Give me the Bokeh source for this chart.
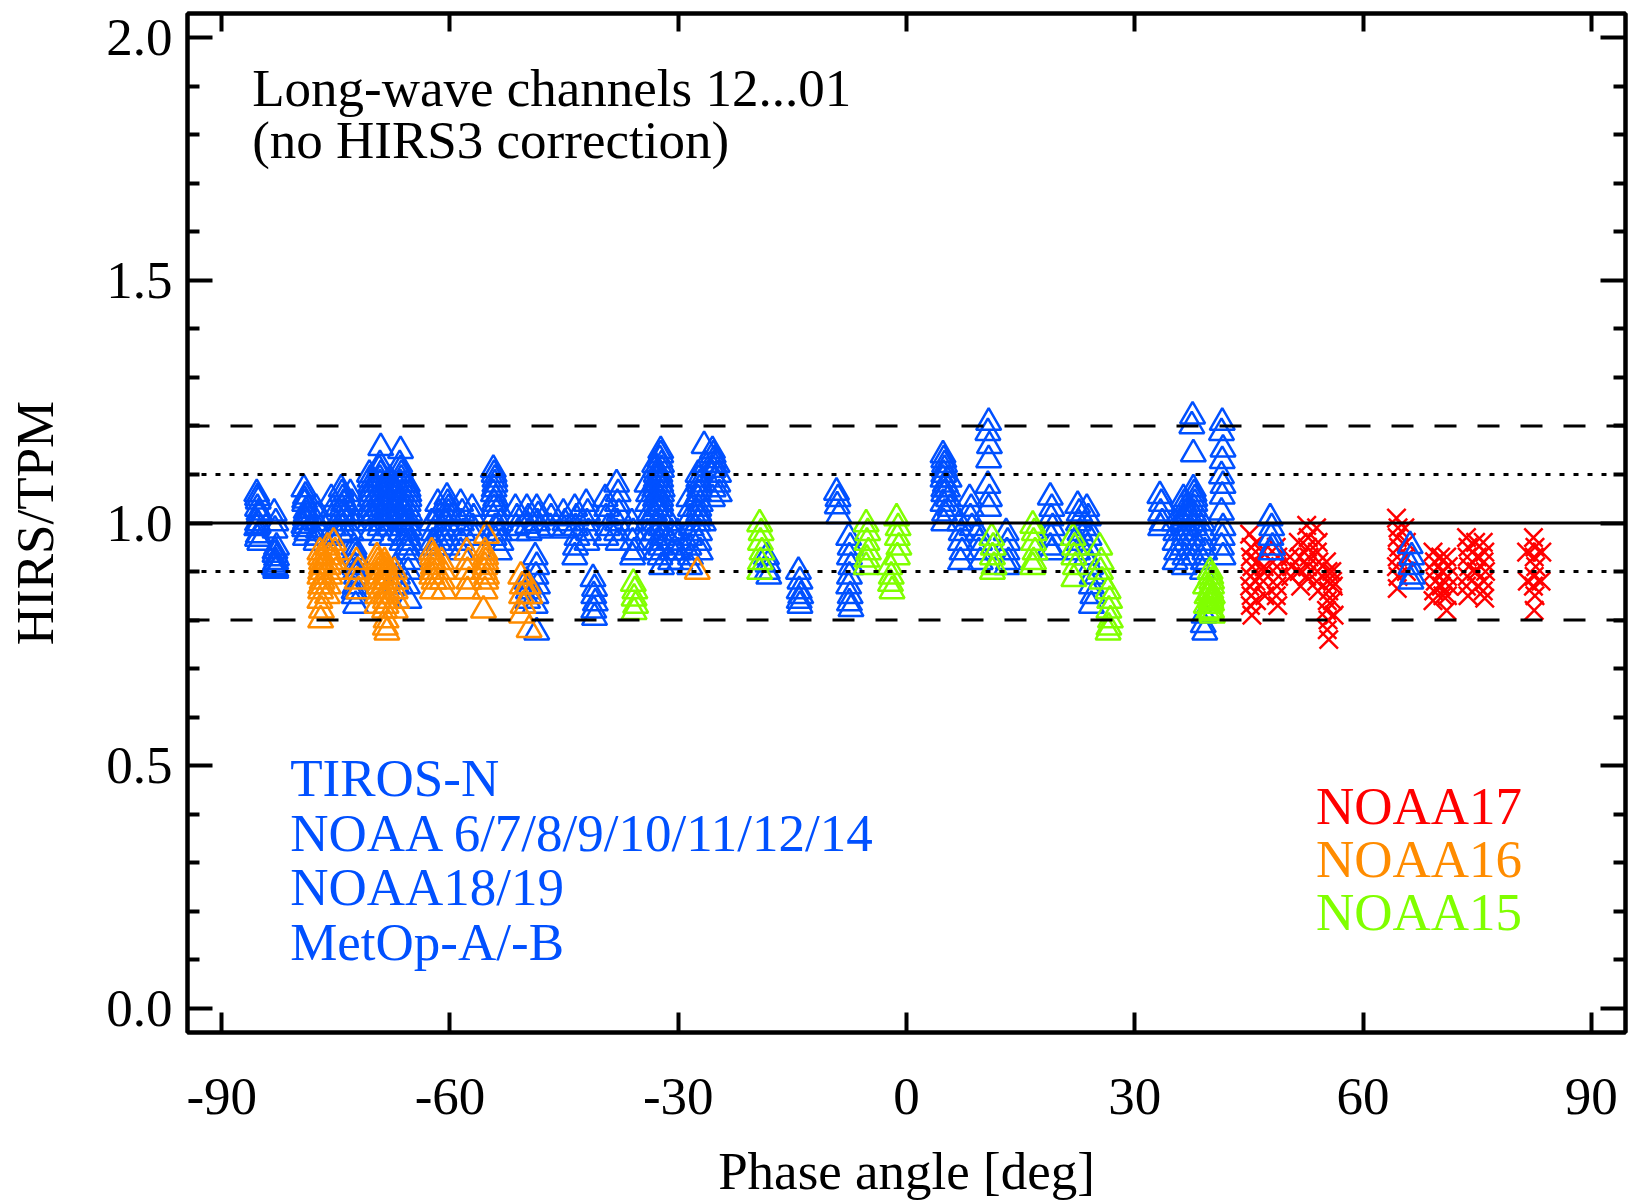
from bokeh.plotting import figure
from bokeh.models import (Range1d, LinearAxis, FixedTicker, PrintfTickFormatter,
                          Span, Label, CustomJSTickFormatter)
from bokeh.embed import file_html
from bokeh.resources import INLINE

# ---------------- data ----------------
x_ticks = [-90, -60, -30, 0, 30, 60, 90]
y_ticks = [0.0, 0.5, 1.0, 1.5, 2.0]
y_minor_ticks = [0.1, 0.2, 0.3, 0.4, 0.6, 0.7, 0.8, 0.9, 1.1, 1.2, 1.3, 1.4,
                 1.6, 1.7, 1.8, 1.9]
solid_level = 1.0
dotted_levels = [0.9, 1.1]
dashed_levels = [0.8, 1.2]

title_lines = ["Long-wave channels 12...01", "(no HIRS3 correction)"]
blue_labels = ["TIROS-N", "NOAA 6/7/8/9/10/11/12/14", "NOAA18/19", "MetOp-A/-B"]
right_labels = ["NOAA17", "NOAA16", "NOAA15"]

# Blue: TIROS-N, NOAA 6-14, NOAA18/19, MetOp-A/-B
blue_phase = (
    [-85.4, -85.2, -85.3, -85.1, -85.3, -85.4, -85.2, -85.0]
    + [-85.3, -85.1, -85.2, -85.3]
    + [-83.1, -82.9, -83.0, -82.8, -83.0, -82.9, -83.1, -82.9]
    + [-83.0, -82.8, -83.0, -82.9]
    + [-79.2, -79.0, -79.1, -78.9, -79.0, -79.2, -78.8, -79.0]
    + [-79.1, -78.9, -79.0, -79.1]
    + [-77.6, -77.4, -77.5, -77.3, -77.5, -77.6]
    + [-75.6, -75.4, -75.5, -75.3, -75.5]
    + [-74.3, -74.1, -74.2, -74.0, -74.2, -74.3]
    + [-74.2, -74.0, -74.1, -74.2]
    + [-73.1, -72.9, -73.0, -72.8, -73.0]
    + [-72.6, -72.4, -72.5, -72.3, -72.5, -72.6, -72.4]
    + [-72.5, -72.4, -72.6]
    + [-70.6, -70.4, -70.5, -70.3, -70.5, -70.6, -70.4]
    + [-70.5, -70.4, -70.5, -70.6, -70.4]
    + [-69.1, -69.3, -69.2, -69.0, -69.2, -69.3, -69.1, -69.2, -69.0]
    + [-69.2, -69.1, -69.2, -69.0, -69.1, -69.2, -69.1]
    + [-67.9, -67.7, -67.8, -67.6, -67.8, -67.9, -67.7]
    + [-67.8, -67.7, -67.9, -67.8, -67.7]
    + [-66.5, -66.6, -66.4, -66.5, -66.3, -66.5, -66.6, -66.4, -66.5, -66.3]
    + [-66.5, -66.4, -66.6, -66.5, -66.4, -66.5]
    + [-65.6, -65.4, -65.5, -65.3, -65.5, -65.6, -65.4, -65.5, -65.3, -65.5, -65.6, -65.4]
    + [-65.5, -65.4, -65.6, -65.5, -65.4, -65.5, -65.6]
    + [-67.1, -66.9, -67.0]
    + [-62.4, -62.2, -62.3, -62.1]
    + [-61.6, -61.4, -61.5, -61.3, -61.5]
    + [-60.4, -60.2, -60.3, -60.1, -60.3, -60.4]
    + [-60.3, -60.2, -60.4]
    + [-58.6, -58.4, -58.5, -58.3, -58.5, -58.6]
    + [-57.1, -56.9, -57.0, -56.8]
    + [-54.3, -54.1, -54.2, -54.0, -54.2, -54.3, -54.1, -54.2]
    + [-54.2, -54.1, -54.3, -54.2]
    + [-53.6, -53.4, -53.5, -53.3, -53.5]
    + [-51.4, -51.2, -51.3, -51.1]
    + [-49.9, -49.7, -49.8, -49.6]
    + [-48.6, -48.4, -48.5, -48.3]
    + [-46.9, -46.7, -46.8]
    + [-45.1, -44.9, -45.0]
    + [-48.8, -48.6, -48.7, -48.5, -48.7, -48.8, -48.6]
    + [-49.9, -49.7, -49.8]
    + [-43.6, -43.4, -43.5, -43.3, -43.5, -43.6]
    + [-42.1, -41.9, -42.0, -41.8, -42.0]
    + [-41.2, -41.0, -41.1, -40.9, -41.1, -41.0]
    + [-39.6, -39.4, -39.5, -39.3, -39.5]
    + [-38.1, -37.9, -38.0, -37.8, -38.0, -38.1, -37.9]
    + [-36.1, -35.9, -36.0, -35.8, -36.0]
    + [-34.1, -33.9, -34.0, -33.8, -34.0, -34.1, -33.9]
    + [-33.1, -32.9, -33.0, -32.8, -33.0, -33.1, -32.9, -33.0, -32.8, -33.0]
    + [-33.0, -32.9, -33.1, -33.0, -32.9]
    + [-32.3, -32.4, -32.2, -32.3, -32.1, -32.3, -32.4, -32.2, -32.3, -32.1, -32.3, -32.4, -32.2]
    + [-32.3, -32.2, -32.4, -32.3, -32.2, -32.3]
    + [-31.1, -30.9, -31.0, -30.8, -31.0]
    + [-30.1, -29.9, -30.0, -29.8]
    + [-28.6, -28.4, -28.5, -28.3, -28.5, -28.6, -28.4, -28.5]
    + [-27.4, -27.2, -27.3, -27.1, -27.3, -27.4, -27.2, -27.3, -27.1]
    + [-27.3, -27.2, -27.4, -27.3, -27.2]
    + [-26.6, -26.5, -26.7]
    + [-25.5, -25.3, -25.4, -25.2, -25.4, -25.5]
    + [-25.4, -25.3, -25.5]
    + [-24.9, -24.7, -24.8, -24.6]
    + [-18.4, -18.2, -18.3, -18.1]
    + [-14.2, -14.0, -14.1, -13.9, -14.1, -14.0]
    + [-9.2, -9.0, -9.1, -8.9]
    + [-7.6, -7.4, -7.5, -7.3, -7.5, -7.6, -7.4, -7.5, -7.3]
    + [4.8, 5.0, 4.9, 5.1, 4.9, 4.8, 5.0, 4.9]
    + [4.9, 5.0, 4.8, 4.9]
    + [5.6, 5.4, 5.5, 5.7]
    + [7.0, 7.2, 7.1, 7.3, 7.1]
    + [8.3, 8.5, 8.4, 8.6]
    + [9.4, 9.6, 9.5, 9.7]
    + [10.8, 10.7, 10.9, 10.8, 10.7, 10.9, 10.8]
    + [13.1, 13.3, 13.2, 13.4, 13.2]
    + [18.9, 19.1, 19.0, 19.2, 19.0, 18.9, 19.1]
    + [22.5, 22.7, 22.6, 22.8, 22.6, 22.5]
    + [23.7, 23.9, 23.8, 24.0, 23.8, 23.7]
    + [24.2, 24.4, 24.3, 24.5, 24.3]
    + [33.3, 33.5, 33.4, 33.6, 33.4]
    + [35.2, 35.4, 35.3, 35.5, 35.3]
    + [36.4, 36.6, 36.5, 36.7, 36.5, 36.4, 36.6, 36.5]
    + [36.5, 36.6, 36.4, 36.5]
    + [37.7, 37.9, 37.8, 38.0, 37.8, 37.7, 37.9, 37.8]
    + [37.8, 37.9, 37.7, 37.8]
    + [37.6, 37.5, 37.7]
    + [38.9, 39.1, 39.0, 39.2, 39.0, 38.9, 39.1, 39.0, 39.2]
    + [41.5, 41.4, 41.6, 41.5, 41.4, 41.6, 41.5, 41.4, 41.6, 41.5, 41.4, 41.6]
    + [47.8, 48.0, 47.9, 48.1, 47.9]
    + [66.2, 66.4, 66.3, 66.5, 66.3]
)
blue_ratio = (
    [1.060, 1.045, 1.030, 1.015, 1.000, 0.990, 0.975, 0.960]
    + [1.052, 1.022, 0.995, 0.968]
    + [1.020, 1.000, 0.985, 0.950, 0.935, 0.920, 0.910, 0.905]
    + [0.942, 0.928, 0.915, 0.902]
    + [1.070, 1.055, 1.040, 1.025, 1.010, 0.995, 0.980, 0.970]
    + [1.047, 1.018, 1.003, 0.988]
    + [1.030, 1.015, 1.000, 0.985, 0.970, 0.960]
    + [1.050, 1.030, 1.010, 0.990, 0.970]
    + [1.070, 1.050, 1.030, 1.010, 0.990, 0.975]
    + [1.060, 1.040, 1.020, 1.000]
    + [1.060, 1.040, 1.020, 1.000, 0.980]
    + [0.950, 0.930, 0.910, 0.890, 0.870, 0.850, 0.830]
    + [0.940, 0.900, 0.860]
    + [1.100, 1.080, 1.060, 1.040, 1.020, 1.000, 0.980]
    + [1.090, 1.070, 1.050, 1.030, 1.010]
    + [1.155, 1.110, 1.090, 1.070, 1.050, 1.030, 1.010, 0.990, 0.970]
    + [1.120, 1.100, 1.080, 1.060, 1.040, 1.020, 1.000]
    + [1.090, 1.070, 1.050, 1.030, 1.010, 0.990, 0.970]
    + [1.080, 1.060, 1.040, 1.020, 1.000]
    + [1.149, 1.120, 1.100, 1.080, 1.060, 1.040, 1.020, 1.000, 0.980, 0.960]
    + [1.110, 1.090, 1.070, 1.050, 1.030, 1.010]
    + [1.080, 1.060, 1.040, 1.020, 1.000, 0.980, 0.960, 0.940, 0.920, 0.900, 0.870, 0.840]
    + [1.070, 1.050, 1.030, 1.010, 0.990, 0.970, 0.950]
    + [0.910, 0.890, 0.870]
    + [1.000, 0.980, 0.960, 0.950]
    + [1.040, 1.020, 1.000, 0.980, 0.960]
    + [1.053, 1.030, 1.010, 0.990, 0.970, 0.950]
    + [1.040, 1.020, 1.000]
    + [1.040, 1.020, 1.000, 0.980, 0.960, 0.940]
    + [1.030, 1.010, 0.990, 0.970]
    + [1.110, 1.090, 1.070, 1.050, 1.030, 1.010, 0.990, 0.970]
    + [1.100, 1.080, 1.060, 1.040]
    + [1.030, 1.000, 0.980, 0.960, 0.940]
    + [1.030, 1.010, 0.990, 0.980]
    + [1.030, 1.010, 0.995, 0.980]
    + [1.030, 1.015, 1.000, 0.985]
    + [1.030, 1.010, 0.990]
    + [1.020, 1.000, 0.985]
    + [0.930, 0.910, 0.890, 0.870, 0.850, 0.830, 0.775]
    + [0.880, 0.860, 0.840]
    + [1.030, 1.010, 0.990, 0.970, 0.950, 0.930]
    + [1.040, 1.020, 1.000, 0.980, 0.960]
    + [0.885, 0.865, 0.850, 0.835, 0.820, 0.805]
    + [1.050, 1.030, 1.010, 0.990, 0.970]
    + [1.080, 1.060, 1.040, 1.020, 1.000, 0.980, 0.960]
    + [1.000, 0.980, 0.960, 0.940, 0.930]
    + [1.080, 1.060, 1.040, 1.020, 1.000, 0.980, 0.960]
    + [1.120, 1.100, 1.080, 1.060, 1.040, 1.020, 1.000, 0.980, 0.960, 0.940]
    + [1.110, 1.090, 1.070, 1.050, 1.030]
    + [1.149, 1.130, 1.110, 1.090, 1.070, 1.050, 1.030, 1.010, 0.990, 0.970, 0.950, 0.930, 0.910]
    + [1.140, 1.120, 1.100, 1.080, 1.060, 1.040]
    + [1.000, 0.980, 0.960, 0.940, 0.920]
    + [0.980, 0.960, 0.940, 0.920]
    + [1.050, 1.030, 1.010, 0.990, 0.970, 0.950, 0.930, 0.910]
    + [1.100, 1.080, 1.060, 1.040, 1.020, 1.000, 0.980, 0.960, 0.940]
    + [1.090, 1.070, 1.050, 1.030, 1.010]
    + [1.159, 1.120, 1.000]
    + [1.149, 1.130, 1.110, 1.090, 1.070, 1.050]
    + [1.140, 1.120, 1.100]
    + [1.120, 1.100, 1.080, 1.060]
    + [0.930, 0.915, 0.900, 0.890]
    + [0.900, 0.880, 0.860, 0.850, 0.840, 0.830]
    + [1.063, 1.050, 1.035, 1.015]
    + [0.970, 0.950, 0.930, 0.910, 0.890, 0.870, 0.850, 0.835, 0.823]
    + [1.140, 1.120, 1.100, 1.080, 1.060, 1.040, 1.020, 1.000]
    + [1.130, 1.110, 1.090, 1.070]
    + [1.090, 1.070, 1.050, 1.030]
    + [1.000, 0.980, 0.960, 0.940, 0.920]
    + [1.050, 1.030, 1.010, 0.990]
    + [0.980, 0.960, 0.940, 0.920]
    + [1.207, 1.186, 1.159, 1.130, 1.077, 1.050, 1.030]
    + [0.980, 0.960, 0.940, 0.920, 0.910]
    + [1.053, 1.030, 1.010, 0.990, 0.970, 0.950, 0.940]
    + [1.036, 1.020, 1.000, 0.980, 0.960, 0.940]
    + [1.030, 1.010, 0.990, 0.970, 0.950, 0.930]
    + [0.910, 0.890, 0.870, 0.850, 0.830]
    + [1.056, 1.040, 1.020, 1.000, 0.990]
    + [1.000, 0.980, 0.960, 0.940, 0.920]
    + [1.050, 1.030, 1.010, 0.990, 0.970, 0.950, 0.930, 0.910]
    + [1.040, 1.020, 1.000, 0.980]
    + [1.070, 1.050, 1.030, 1.010, 0.990, 0.970, 0.950, 0.930]
    + [1.060, 1.040, 1.020, 1.000]
    + [1.220, 1.200, 1.142]
    + [1.000, 0.980, 0.960, 0.940, 0.920, 0.900, 0.810, 0.790, 0.775]
    + [1.207, 1.186, 1.152, 1.128, 1.097, 1.077, 1.055, 1.022, 0.990, 0.970, 0.950, 0.930]
    + [1.010, 0.990, 0.970, 0.950, 0.940]
    + [0.953, 0.930, 0.910, 0.890, 0.880]
)

# Orange: NOAA16
orange_phase = (
    [-77.1, -76.9, -77.0, -76.8, -77.0, -77.1, -76.9, -77.0]
    + [-77.0, -76.9, -77.1, -77.0]
    + [-76.1, -75.9, -76.0, -75.8, -76.0, -76.1]
    + [-75.3, -75.1, -75.2, -75.0]
    + [-72.3, -72.1, -72.2, -72.0]
    + [-69.6, -69.4, -69.5, -69.3, -69.5, -69.6]
    + [-69.5, -69.4, -69.6]
    + [-68.6, -68.4, -68.5, -68.3, -68.5, -68.6, -68.4, -68.5, -68.3]
    + [-68.5, -68.4, -68.6, -68.5, -68.4]
    + [-67.3, -67.1, -67.2, -67.0, -67.2]
    + [-62.4, -62.2, -62.3, -62.1, -62.3]
    + [-62.3, -62.2, -62.4]
    + [-61.1, -60.9, -61.0, -60.8]
    + [-57.8, -57.6, -57.7, -57.5, -57.7]
    + [-55.2, -55.4, -55.3, -55.5, -55.3, -55.4, -55.6]
    + [-55.3, -55.4, -55.2]
    + [-50.7, -50.5, -50.6, -50.4, -50.6]
    + [-49.7, -49.5, -49.6]
    + [-27.5]
)
orange_ratio = (
    [0.940, 0.920, 0.900, 0.880, 0.860, 0.840, 0.820, 0.800]
    + [0.930, 0.910, 0.890, 0.870]
    + [0.950, 0.930, 0.910, 0.890, 0.870, 0.850]
    + [0.960, 0.940, 0.920, 0.900]
    + [0.920, 0.900, 0.880, 0.860]
    + [0.930, 0.910, 0.890, 0.870, 0.850, 0.830]
    + [0.920, 0.900, 0.880]
    + [0.920, 0.900, 0.880, 0.860, 0.840, 0.820, 0.800, 0.785, 0.775]
    + [0.910, 0.890, 0.870, 0.850, 0.830]
    + [0.900, 0.880, 0.860, 0.840, 0.820]
    + [0.940, 0.920, 0.900, 0.880, 0.860]
    + [0.930, 0.910, 0.890]
    + [0.920, 0.900, 0.880, 0.860]
    + [0.940, 0.920, 0.900, 0.880, 0.860]
    + [0.974, 0.940, 0.920, 0.900, 0.880, 0.860, 0.820]
    + [0.930, 0.910, 0.890]
    + [0.890, 0.870, 0.850, 0.830, 0.810]
    + [0.870, 0.850, 0.780]
    + [0.900]
)

# Green: NOAA15
green_phase = (
    [-35.9, -35.7, -35.8, -35.6, -35.8]
    + [-19.3, -19.1, -19.2, -19.0, -19.2, -19.3]
    + [-5.3, -5.1, -5.2, -5.0, -5.2, -5.3]
    + [-2.2, -2.0, -2.1, -1.9]
    + [-1.3, -1.1, -1.2, -1.0, -1.2]
    + [11.2, 11.4, 11.3, 11.5, 11.3]
    + [16.6, 16.8, 16.7, 16.9, 16.7, 16.6]
    + [21.9, 22.1, 22.0, 22.2, 22.0]
    + [25.4, 25.6, 25.5, 25.7]
    + [26.5, 26.7, 26.6, 26.8, 26.6, 26.5]
    + [39.9, 40.1, 40.0, 40.2, 40.0, 39.9, 40.1, 40.0, 40.2]
    + [40.0, 40.1, 39.9, 40.0, 40.1]
    + [39.3, 39.5, 39.4, 39.6]
)
green_ratio = (
    [0.875, 0.860, 0.845, 0.830, 0.817]
    + [0.998, 0.980, 0.960, 0.940, 0.920, 0.900]
    + [0.998, 0.980, 0.960, 0.940, 0.925, 0.910]
    + [0.910, 0.890, 0.875, 0.860]
    + [1.010, 0.990, 0.970, 0.950, 0.930]
    + [0.970, 0.950, 0.930, 0.910, 0.900]
    + [0.995, 0.980, 0.960, 0.940, 0.920, 0.910]
    + [0.970, 0.950, 0.930, 0.910, 0.885]
    + [0.950, 0.920, 0.900, 0.880]
    + [0.860, 0.840, 0.820, 0.800, 0.785, 0.775]
    + [0.900, 0.880, 0.860, 0.850, 0.840, 0.830, 0.820, 0.817, 0.810]
    + [0.890, 0.870, 0.855, 0.845, 0.835]
    + [0.870, 0.850, 0.830, 0.815]
)

# Red: NOAA17
red_phase = (
    [45.1, 45.3, 45.2, 45.4, 45.2, 45.1, 45.3, 45.2, 45.4]
    + [46.0, 46.1, 45.9, 46.0]
    + [46.8, 47.0, 46.9, 47.1, 46.9]
    + [48.6, 48.8, 48.7, 48.9, 48.7, 48.6, 48.8]
    + [50.4, 50.6, 50.5]
    + [51.5, 51.7, 51.6, 51.8]
    + [52.6, 52.8, 52.7, 52.9, 52.7, 52.6]
    + [53.9, 54.1, 54.0, 54.2, 54.0, 53.9, 54.1]
    + [55.2, 55.4, 55.3, 55.5, 55.3, 55.2, 55.4, 55.3, 55.5]
    + [55.9, 56.1, 56.0, 56.2, 56.0]
    + [64.4, 64.6, 64.5, 64.7, 64.5, 64.4, 64.6, 64.5]
    + [65.5, 65.7, 65.6, 65.7]
    + [69.2, 69.4, 69.3, 69.5, 69.3, 69.2]
    + [70.2, 70.4, 70.3, 70.5]
    + [71.0, 71.2, 71.1, 71.3, 71.1, 71.0]
    + [73.6, 73.8, 73.7, 73.9, 73.7, 73.6, 73.8]
    + [74.8, 75.0, 74.9, 75.1]
    + [75.8, 76.0, 75.9, 76.1, 75.9, 75.8, 76.0]
    + [82.4, 82.6, 82.5, 82.7, 82.5, 82.4, 82.6, 82.5]
    + [81.5, 83.5, 81.6, 83.4]
)
red_ratio = (
    [0.977, 0.950, 0.930, 0.910, 0.890, 0.870, 0.850, 0.830, 0.810]
    + [0.960, 0.920, 0.880, 0.840]
    + [0.940, 0.910, 0.880, 0.850, 0.900]
    + [0.950, 0.930, 0.910, 0.890, 0.870, 0.850, 0.830]
    + [0.930, 0.910, 0.890]
    + [0.960, 0.930, 0.900, 0.870]
    + [0.995, 0.970, 0.950, 0.930, 0.910, 0.890]
    + [0.990, 0.960, 0.940, 0.920, 0.900, 0.880, 0.860]
    + [0.920, 0.900, 0.880, 0.860, 0.840, 0.820, 0.800, 0.780, 0.760]
    + [0.900, 0.870, 0.840, 0.810, 0.880]
    + [1.010, 0.990, 0.970, 0.950, 0.930, 0.910, 0.890, 0.865]
    + [0.990, 0.960, 0.930, 0.900]
    + [0.940, 0.920, 0.900, 0.880, 0.860, 0.840]
    + [0.930, 0.900, 0.870, 0.850]
    + [0.930, 0.910, 0.890, 0.870, 0.850, 0.820]
    + [0.970, 0.950, 0.930, 0.910, 0.890, 0.870, 0.850]
    + [0.960, 0.930, 0.900, 0.870]
    + [0.960, 0.940, 0.920, 0.900, 0.880, 0.860, 0.845]
    + [0.970, 0.950, 0.930, 0.910, 0.890, 0.870, 0.850, 0.820]
    + [0.940, 0.940, 0.880, 0.880]
)

# ---------------- styling ----------------
FONT = "Liberation Serif"
FS = "53px"
BLUE = "#0050ff"
ORANGE = "#ff8c00"
GREEN = "#80ff00"
RED = "#ff0000"

p = figure(width=1628, height=1202,
           x_range=Range1d(-94.5, 94.5), y_range=Range1d(-0.05, 2.05),
           output_backend="svg", toolbar_location=None,
           min_border_left=187, min_border_right=3,
           min_border_top=13, min_border_bottom=167)
p.xgrid.visible = False
p.ygrid.visible = False
p.outline_line_color = "black"
p.outline_line_width = 4
p.background_fill_color = "white"
p.border_fill_color = "white"

empty_fmt = CustomJSTickFormatter(code="return ''")


def style_axis(ax, ticks, minor, tick_in, minor_in, labels=True):
    ax.ticker = FixedTicker(ticks=ticks, minor_ticks=minor)
    ax.axis_line_width = 4
    ax.axis_line_color = "black"
    ax.major_tick_in = tick_in
    ax.major_tick_out = 0
    ax.minor_tick_in = minor_in
    ax.minor_tick_out = 0
    ax.major_tick_line_width = 4
    ax.minor_tick_line_width = 4
    ax.major_tick_line_color = "black"
    ax.minor_tick_line_color = "black" if minor else None
    if labels:
        ax.major_label_text_font = FONT
        ax.major_label_text_font_size = FS
        ax.major_label_text_color = "black"
        ax.axis_label_text_font = FONT
        ax.axis_label_text_font_size = FS
        ax.axis_label_text_font_style = "normal"
        ax.axis_label_text_color = "black"
    else:
        ax.formatter = empty_fmt
        ax.major_label_text_font_size = "1px"
        ax.major_label_standoff = 0


xa = p.xaxis[0]
style_axis(xa, x_ticks, [], 20, 0)
xa.formatter = PrintfTickFormatter(format="%d")
xa.major_label_standoff = 46
xa.axis_label = "Phase angle [deg]"
xa.axis_label_standoff = 25

ya = p.yaxis[0]
style_axis(ya, y_ticks, y_minor_ticks, 25, 12)
ya.formatter = PrintfTickFormatter(format="%.1f")
ya.major_label_standoff = 15
ya.axis_label = "HIRS/TPM"
ya.axis_label_standoff = 39

top = LinearAxis()
style_axis(top, x_ticks, [], 18, 0, labels=False)
p.add_layout(top, "above")

right = LinearAxis()
style_axis(right, y_ticks, y_minor_ticks, 25, 12, labels=False)
p.add_layout(right, "right")

# reference lines
p.add_layout(Span(location=solid_level, dimension="width",
                  line_color="black", line_width=3))
for lv in dotted_levels:
    p.add_layout(Span(location=lv, dimension="width", line_color="black",
                      line_width=3, line_dash="5 9"))
for lv in dashed_levels:
    p.add_layout(Span(location=lv, dimension="width", line_color="black",
                      line_width=3, line_dash="22 21"))

# data
p.scatter(red_phase, red_ratio, marker="x", size=26, line_color=RED,
          line_width=2.5)
p.scatter(blue_phase, blue_ratio, marker="triangle", size=25,
          fill_color=None, line_color=BLUE, line_width=2.5)
p.scatter(orange_phase, orange_ratio, marker="triangle", size=25,
          fill_color=None, line_color=ORANGE, line_width=2.5)
p.scatter(green_phase, green_ratio, marker="triangle", size=25,
          fill_color=None, line_color=GREEN, line_width=2.5)

# annotations
title_y = [1.897, 1.790]
for txt, yy in zip(title_lines, title_y):
    p.add_layout(Label(x=-86.0, y=yy, text=txt, text_font=FONT,
                       text_font_size=FS, text_color="black",
                       text_baseline="alphabetic", text_align="left"))

blue_y = [0.474, 0.362, 0.249, 0.137]
for txt, yy in zip(blue_labels, blue_y):
    p.add_layout(Label(x=-81.0, y=yy, text=txt, text_font=FONT,
                       text_font_size=FS, text_color=BLUE,
                       text_baseline="alphabetic", text_align="left"))

right_y = [0.416, 0.307, 0.198]
right_colors = [RED, ORANGE, GREEN]
for txt, yy, col in zip(right_labels, right_y, right_colors):
    p.add_layout(Label(x=80.9, y=yy, text=txt, text_font=FONT,
                       text_font_size=FS, text_color=col,
                       text_baseline="alphabetic", text_align="right"))

open("out.html", "w").write(file_html(p, INLINE))
